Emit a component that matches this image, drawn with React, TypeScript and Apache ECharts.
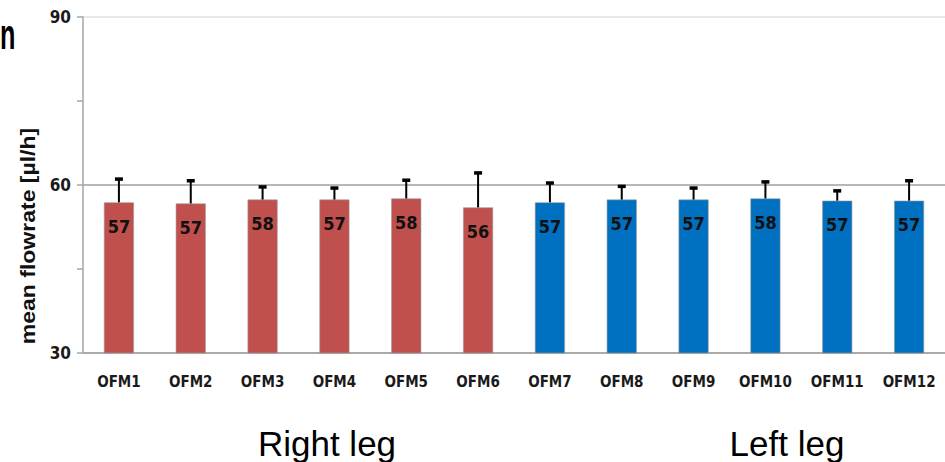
import React, { useEffect, useRef } from "react";
import * as echarts from "echarts";

const categories = ["OFM1", "OFM2", "OFM3", "OFM4", "OFM5", "OFM6", "OFM7", "OFM8", "OFM9", "OFM10", "OFM11", "OFM12"];
const means = [56.9, 56.7, 57.4, 57.4, 57.6, 56.0, 56.9, 57.4, 57.4, 57.6, 57.2, 57.2];
const errors = [4.2, 4.1, 2.3, 2.1, 3.3, 6.2, 3.5, 2.4, 2.1, 3.0, 1.8, 3.6];
const valueLabels = ["57", "57", "58", "57", "58", "56", "57", "57", "57", "58", "57", "57"];
const legs = ["right", "right", "right", "right", "right", "right", "left", "left", "left", "left", "left", "left"];
const legTitles = ["Right leg", "Left leg"];
const yAxisTitle = "mean flowrate [µl/h]";
const yMin = 30;
const yMax = 90;
const yInterval = 30;

const legColors: Record<string, string> = { right: "#C0504D", left: "#0070C0" };
const narrow = "'Liberation Sans Narrow', 'DejaVu Sans Condensed', 'Liberation Sans', sans-serif";
const arial = "'Liberation Sans', Arial, sans-serif";

export default function App() {
  const ref = useRef<HTMLDivElement>(null);
  useEffect(() => {
    if (!ref.current) return;
    const chart = echarts.init(ref.current, null, { renderer: "svg" });
    const option: any = {
      animation: false,
      backgroundColor: "#ffffff",
      grid: { left: 83, right: 0, top: 17, bottom: 109 },
      xAxis: {
        type: "category",
        data: categories,
        axisLine: { lineStyle: { color: "#a6a6a6", width: 1.5 } },
        axisTick: { show: false },
        axisLabel: { interval: 0, color: "#1a1a1a", fontFamily: narrow, fontWeight: "bold", fontSize: 15, margin: 21 },
      },
      yAxis: {
        type: "value",
        min: yMin,
        max: yMax,
        interval: yInterval,
        axisLine: { show: true, lineStyle: { color: "#a6a6a6", width: 1.5 } },
        axisTick: { show: true, length: 6, lineStyle: { color: "#a6a6a6", width: 1.5 } },
        minorTick: { show: true, splitNumber: 2, length: 6, lineStyle: { color: "#a6a6a6", width: 1.5 } },
        axisLabel: { color: "#1a1a1a", fontFamily: narrow, fontWeight: "bold", fontSize: 17, margin: 12 },
        splitLine: { show: true, lineStyle: { color: ["#a0a0a0", "#a0a0a0", "#e2e2e2"], width: 1.5 } },
      },
      graphic: [
        {
          type: "text",
          x: 28,
          y: 236,
          rotation: Math.PI / 2,
          scaleX: 1.15,
          style: { text: yAxisTitle, fontFamily: arial, fontWeight: "bold", fontSize: 20, fill: "#111", align: "center", verticalAlign: "middle" },
        },
        {
          type: "text",
          x: 0,
          y: 13,
          scaleX: 0.6,
          style: { text: "n", fontFamily: arial, fontWeight: "bold", fontSize: 42, fill: "#000" },
        },
        {
          type: "text",
          x: 327,
          y: 443,
          style: { text: legTitles[0], fontFamily: arial, fontSize: 35, fill: "#000", align: "center", verticalAlign: "middle" },
        },
        {
          type: "text",
          x: 787,
          y: 443,
          style: { text: legTitles[1], fontFamily: arial, fontSize: 35, fill: "#000", align: "center", verticalAlign: "middle" },
        },
      ],
      series: [
        {
          type: "bar",
          barWidth: 30,
          data: means.map((v, i) => ({
            value: v,
            itemStyle: { color: legColors[legs[i]], borderColor: "#9a9a9a", borderWidth: 0.6 },
          })),
          label: {
            show: true,
            position: "insideTop",
            distance: 15,
            formatter: (p: any) => valueLabels[p.dataIndex],
            color: "#111",
            fontFamily: narrow,
            fontWeight: "bold",
            fontSize: 18,
          },
          z: 2,
        },
        {
          type: "custom",
          z: 3,
          data: means.map((v, i) => [i, v, v + errors[i]]),
          renderItem: (params: any, api: any) => {
            const p0 = api.coord([api.value(0), api.value(1)]);
            const p1 = api.coord([api.value(0), api.value(2)]);
            return {
              type: "group",
              children: [
                { type: "line", shape: { x1: p0[0], y1: p0[1], x2: p1[0], y2: p1[1] }, style: { stroke: "#000", lineWidth: 2 } },
                { type: "rect", shape: { x: p1[0] - 4, y: p1[1] - 1.5, width: 8, height: 3.5 }, style: { fill: "#000" } },
              ],
            };
          },
        },
      ],
    };
    chart.setOption(option);
    return () => chart.dispose();
  }, []);
  return <div ref={ref} style={{ position: "fixed", left: 0, top: 0, width: 945, height: 462 }} />;
}
